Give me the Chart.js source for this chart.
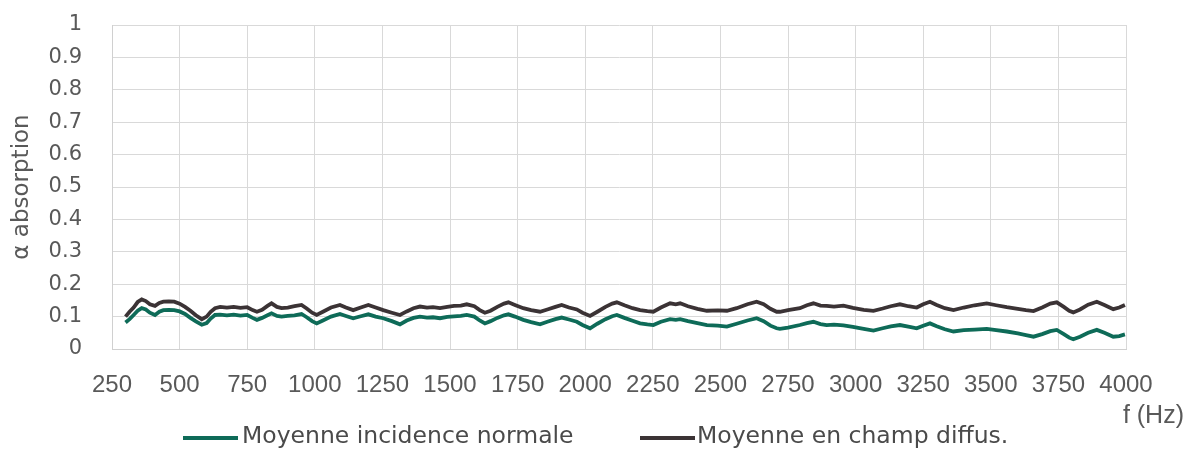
<!DOCTYPE html>
<html>
<head>
<meta charset="utf-8">
<script src="https://cdn.jsdelivr.net/npm/chart.js@4.4.1/dist/chart.umd.min.js"></script>
<style>
html,body{margin:0;padding:0;background:#fff;}
#wrap{position:relative;width:1187px;height:449px;}
</style>
</head>
<body>
<div id="wrap"><canvas id="c" width="1187" height="449"></canvas></div>
<script>
const frequencies = [300,315,330,345,360,375,390,409,425,440,460,480,500,520,540,560,582,600,615,631,650,675,700,725,750,770,786,805,825,840,860,877,900,925,951,970,990,1007,1030,1060,1093,1115,1142,1170,1198,1225,1253,1285,1315,1340,1365,1389,1415,1437,1463,1490,1515,1540,1562,1590,1610,1629,1650,1675,1700,1716,1740,1771,1800,1833,1860,1890,1913,1940,1969,1990,2018,2045,2075,2100,2117,2145,2175,2203,2230,2252,2280,2314,2335,2351,2380,2415,2450,2490,2524,2560,2600,2634,2660,2685,2708,2720,2750,2794,2820,2844,2870,2893,2920,2955,2990,3030,3066,3100,3130,3164,3195,3226,3250,3275,3300,3330,3362,3400,3440,3485,3520,3559,3600,3630,3658,3690,3720,3744,3770,3790,3805,3830,3860,3892,3920,3953,3975,3996];

const diffus = [0.100,0.115,0.128,0.145,0.153,0.148,0.138,0.133,0.142,0.146,0.147,0.146,0.140,0.130,0.118,0.104,0.092,0.100,0.115,0.126,0.130,0.128,0.130,0.127,0.129,0.120,0.115,0.121,0.133,0.141,0.130,0.126,0.128,0.132,0.136,0.125,0.112,0.105,0.115,0.128,0.136,0.128,0.120,0.128,0.136,0.128,0.120,0.112,0.105,0.116,0.126,0.131,0.128,0.129,0.126,0.130,0.133,0.134,0.138,0.132,0.120,0.112,0.118,0.130,0.140,0.144,0.136,0.126,0.120,0.115,0.122,0.130,0.136,0.128,0.122,0.112,0.102,0.115,0.130,0.140,0.144,0.135,0.126,0.120,0.117,0.115,0.128,0.141,0.138,0.141,0.132,0.124,0.118,0.119,0.118,0.126,0.138,0.146,0.138,0.124,0.115,0.115,0.120,0.126,0.135,0.141,0.134,0.133,0.131,0.134,0.127,0.121,0.118,0.125,0.132,0.138,0.132,0.128,0.138,0.146,0.136,0.126,0.120,0.128,0.135,0.141,0.135,0.129,0.124,0.120,0.117,0.128,0.140,0.144,0.130,0.118,0.113,0.122,0.137,0.146,0.136,0.123,0.128,0.136];

const normale = [0.082,0.092,0.105,0.118,0.126,0.122,0.112,0.105,0.115,0.120,0.121,0.120,0.116,0.108,0.096,0.085,0.075,0.080,0.094,0.105,0.106,0.104,0.106,0.103,0.105,0.096,0.090,0.096,0.104,0.110,0.102,0.100,0.102,0.104,0.108,0.098,0.086,0.079,0.088,0.100,0.108,0.102,0.095,0.101,0.107,0.100,0.095,0.086,0.076,0.088,0.096,0.100,0.097,0.098,0.095,0.099,0.101,0.102,0.105,0.100,0.088,0.079,0.086,0.096,0.104,0.107,0.100,0.090,0.083,0.076,0.084,0.092,0.097,0.091,0.084,0.074,0.064,0.078,0.092,0.101,0.105,0.096,0.087,0.079,0.076,0.074,0.084,0.092,0.090,0.092,0.086,0.080,0.074,0.072,0.069,0.078,0.088,0.095,0.086,0.072,0.064,0.062,0.066,0.074,0.080,0.084,0.077,0.074,0.075,0.073,0.068,0.062,0.057,0.064,0.070,0.074,0.069,0.064,0.072,0.079,0.070,0.061,0.054,0.058,0.060,0.062,0.058,0.054,0.048,0.043,0.038,0.046,0.055,0.059,0.046,0.035,0.030,0.038,0.050,0.059,0.050,0.038,0.040,0.045];

const seriesLabels = ['Moyenne incidence normale', 'Moyenne en champ diffus.'];
const seriesColors = ['#0e6b58', '#3b3335'];
const xTicks = [250,500,750,1000,1250,1500,1750,2000,2250,2500,2750,3000,3250,3500,3750,4000];
const yTicks = [0,0.1,0.2,0.3,0.4,0.5,0.6,0.7,0.8,0.9,1];
const xAxisTitle = 'f (Hz)';
const yAxisTitle = 'α absorption';

const toPoints = vals => frequencies.map((f, i) => ({x: f, y: vals[i]}));

const extraText = {
  id: 'extraText',
  afterDraw(chart) {
    const ctx = chart.ctx;
    ctx.save();
    ctx.font = '25px "Liberation Sans Narrow", "Liberation Sans", sans-serif';
    ctx.fillStyle = '#595959';
    ctx.textAlign = 'right';
    ctx.textBaseline = 'middle';
    ctx.fillText(xAxisTitle, 1184, 416);
    const items = [{x0: 183, x1: 238, tx: 242}, {x0: 640, x1: 695, tx: 697}];
    ctx.font = '23.5px "DejaVu Sans", sans-serif';
    ctx.textAlign = 'left';
    chart.data.datasets.forEach((ds, i) => {
      const it = items[i];
      const y = 438;
      ctx.strokeStyle = ds.borderColor;
      ctx.lineWidth = 4;
      ctx.beginPath();
      ctx.moveTo(it.x0, y);
      ctx.lineTo(it.x1, y);
      ctx.stroke();
      ctx.fillStyle = '#4a4a4a';
      ctx.fillText(ds.label, it.tx, y - 1);
    });
    ctx.restore();
  }
};

new Chart(document.getElementById('c'), {
  type: 'line',
  data: {
    datasets: [
      {label: seriesLabels[0], data: toPoints(normale), borderColor: seriesColors[0], backgroundColor: seriesColors[0], borderWidth: 3.8, pointRadius: 0, tension: 0, fill: false},
      {label: seriesLabels[1], data: toPoints(diffus), borderColor: seriesColors[1], backgroundColor: seriesColors[1], borderWidth: 3.8, pointRadius: 0, tension: 0, fill: false}
    ]
  },
  options: {
    responsive: false,
    animation: false,
    layout: {padding: {top: 25, right: 61, bottom: 0, left: 0}},
    plugins: {
      legend: {display: false},
      tooltip: {enabled: false}
    },
    scales: {
      x: {
        type: 'linear',
        min: xTicks[0],
        max: xTicks[xTicks.length - 1],
        afterBuildTicks: s => { s.ticks = xTicks.map(v => ({value: v})); },
        afterFit: s => { s.height = 100; },
        ticks: {
          callback: v => String(v),
          color: '#595959',
          font: {family: '"Liberation Sans Narrow", "Liberation Sans", sans-serif', size: 24},
          padding: 3,
          maxRotation: 0,
          autoSkip: false
        },
        grid: {color: '#d9d9d9', lineWidth: 1, drawTicks: true, tickLength: 19, tickColor: 'rgba(0,0,0,0)'},
        border: {color: '#d0d0d0'}
      },
      y: {
        min: 0,
        max: 1,
        afterBuildTicks: s => { s.ticks = yTicks.map(v => ({value: v})); },
        afterFit: s => { s.width = 112; },
        ticks: {
          callback: v => String(v),
          color: '#595959',
          font: {family: '"DejaVu Sans", sans-serif', size: 21},
          padding: 4
        },
        grid: {color: '#d9d9d9', lineWidth: 1, drawTicks: true, tickLength: 26, tickColor: 'rgba(0,0,0,0)'},
        border: {color: '#d0d0d0'},
        title: {
          display: true,
          text: yAxisTitle,
          color: '#595959',
          font: {family: '"DejaVu Sans", sans-serif', size: 23},
          padding: {top: 8, bottom: 0}
        }
      }
    }
  },
  plugins: [extraText]
});
</script>
</body>
</html>
